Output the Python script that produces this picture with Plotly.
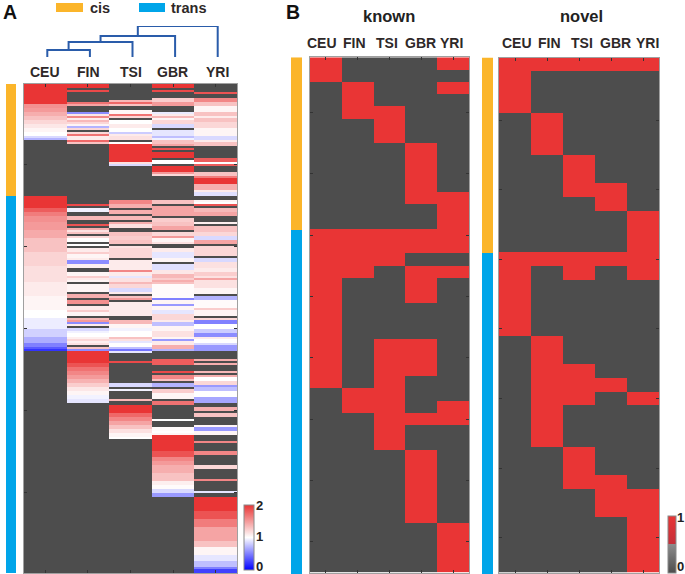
import numpy as np
import plotly.graph_objects as go

W, H = 685, 574
n = None  # no call for this population, shows as dark grey

populations = ["CEU", "FIN", "TSI", "GBR", "YRI"]

# panel A, (value, number of rows) from top to bottom
ceu_runs = [(2.0, 10), (1.55, 2), (1.5, 2), (1.4, 2), (1.3, 2), (1.2, 2), (1.12, 2), (1.05, 2), (1.0, 2), (0.85, 1),
            (0.7, 1), (n, 28), (2.0, 6), (1.8, 2), (1.65, 2), (1.55, 3), (1.5, 4), (1.42, 4), (1.3, 7), (1.22, 7),
            (1.16, 8), (1.1, 7), (1.05, 7), (1.0, 4), (0.93, 6), (0.82, 4), (0.68, 3), (0.5, 2), (0.35, 1), (0.2, 1),
            (n, 111)]
fin_runs = [(2.0, 2), (n, 1), (1.9, 1), (n, 5), (1.7, 1), (1.45, 1), (n, 3), (0.55, 1), (1.12, 1), (1.6, 1), (1.1, 1),
            (1.35, 1), (1.2, 1), (1.05, 1), (0.7, 1), (1.2, 1), (n, 1), (1.2, 1), (1.7, 1), (1.1, 2), (1.75, 1),
            (1.3, 1), (n, 30), (1.9, 1), (n, 1), (0.95, 2), (n, 2), (1.35, 2), (n, 2), (1.85, 1), (n, 1), (1.4, 1),
            (1.15, 1), (1.3, 1), (n, 1), (1.2, 1), (1.0, 2), (n, 1), (1.0, 1), (n, 1), (1.1, 2), (1.25, 1), (1.05, 2),
            (1.1, 1), (0.55, 2), (1.08, 2), (n, 2), (1.05, 2), (1.25, 1), (1.1, 1), (1.05, 1), (n, 1), (1.05, 4),
            (n, 1), (1.4, 2), (n, 1), (1.55, 2), (n, 1), (1.1, 2), (1.25, 1), (1.05, 2), (n, 1), (1.35, 1), (1.5, 1),
            (0.55, 1), (1.1, 1), (n, 1), (0.85, 2), (0.95, 1), (1.0, 2), (1.08, 1), (1.2, 1), (1.08, 1), (1.15, 1),
            (n, 1), (1.3, 1), (0.55, 1), (2.0, 6), (1.85, 2), (1.7, 2), (1.6, 2), (1.5, 2), (1.38, 2), (1.25, 2),
            (1.12, 2), (1.05, 2), (0.95, 2), (0.9, 2), (n, 85)]
tsi_runs = [(n, 8), (1.35, 1), (1.75, 1), (1.3, 1), (n, 2), (1.05, 2), (1.7, 1), (1.2, 1), (n, 1), (1.0, 2), (1.1, 2),
            (1.0, 2), (0.8, 1), (1.1, 1), (1.15, 2), (n, 1), (1.0, 1), (2.0, 9), (1.15, 1), (0.85, 1), (n, 17),
            (1.6, 2), (1.4, 2), (n, 1), (1.4, 2), (n, 1), (1.35, 2), (n, 1), (1.4, 1), (1.15, 2), (n, 2), (1.3, 2),
            (1.25, 2), (1.3, 2), (n, 1), (1.15, 1), (1.2, 5), (n, 1), (1.1, 5), (1.6, 1), (1.1, 2), (0.9, 1), (1.15, 2),
            (1.35, 1), (1.2, 2), (0.85, 2), (1.1, 1), (n, 1), (1.3, 1), (1.5, 1), (n, 1), (1.1, 7), (n, 2), (1.35, 2),
            (1.05, 2), (0.95, 2), (1.0, 3), (1.3, 1), (1.15, 1), (0.9, 1), (1.0, 2), (0.75, 1), (0.45, 1), (0.9, 1),
            (n, 4), (1.9, 1), (n, 10), (0.85, 2), (n, 1), (0.95, 1), (n, 4), (1.35, 1), (n, 2), (2.0, 4), (1.75, 2),
            (1.6, 2), (1.45, 2), (1.3, 2), (1.15, 2), (1.05, 2), (1.0, 1), (n, 68)]
gbr_runs = [(2.0, 2), (n, 1), (1.9, 1), (n, 3), (1.25, 2), (1.5, 2), (n, 3), (0.92, 1), (1.1, 1), (1.35, 1), (1.05, 1),
            (1.2, 2), (0.85, 2), (n, 1), (0.9, 3), (0.75, 1), (0.95, 1), (1.3, 2), (1.45, 1), (n, 1), (1.85, 1), (n, 1),
            (2.0, 3), (n, 1), (1.0, 2), (n, 1), (2.0, 3), (1.5, 1), (1.2, 1), (n, 12), (1.3, 2), (n, 1), (1.45, 5),
            (n, 1), (1.25, 2), (1.3, 2), (1.45, 2), (n, 1), (1.2, 2), (1.5, 1), (1.05, 2), (1.15, 1), (n, 2), (1.1, 2),
            (0.9, 3), (1.05, 2), (n, 1), (0.88, 3), (1.12, 2), (1.35, 2), (1.25, 1), (1.4, 1), (1.3, 1), (1.02, 7),
            (0.5, 1), (1.05, 2), (0.6, 1), (1.05, 2), (0.9, 2), (1.2, 3), (1.1, 1), (0.75, 2), (1.05, 3), (1.15, 3),
            (1.05, 1), (0.6, 1), (1.1, 2), (1.4, 2), (0.7, 1), (n, 4), (1.8, 3), (n, 3), (1.9, 1), (n, 1), (1.6, 2),
            (1.3, 1), (n, 1), (0.7, 2), (n, 1), (1.25, 2), (1.05, 3), (n, 1), (1.7, 2), (n, 7), (1.0, 1), (n, 3),
            (1.02, 2), (1.0, 1), (1.05, 1), (2.0, 8), (1.85, 3), (1.6, 2), (1.5, 2), (1.4, 4), (1.3, 4), (1.08, 2),
            (1.02, 2), (0.85, 2), (0.6, 2), (n, 38)]
yri_runs = [(n, 4), (1.85, 1), (n, 2), (1.6, 2), (1.3, 2), (1.05, 3), (1.3, 2), (1.1, 1), (1.3, 2), (1.2, 3), (1.05, 4),
            (0.85, 2), (1.1, 1), (1.3, 2), (n, 6), (1.8, 2), (1.0, 1), (1.8, 1), (n, 3), (1.3, 2), (1.65, 1), (2.0, 3),
            (1.4, 3), (1.1, 1), (0.88, 2), (n, 2), (1.05, 1), (1.0, 1), (1.85, 1), (n, 1), (1.35, 2), (1.45, 2), (n, 3),
            (1.08, 1), (n, 1), (1.3, 3), (1.2, 2), (0.85, 2), (1.45, 2), (n, 1), (1.2, 5), (n, 1), (0.85, 2), (1.15, 3),
            (1.1, 2), (1.25, 2), (1.15, 1), (1.45, 1), (1.15, 4), (1.05, 3), (n, 1), (0.7, 2), (1.02, 4), (1.25, 1),
            (1.05, 3), (n, 1), (1.2, 1), (0.5, 2), (1.0, 3), (0.8, 2), (0.55, 2), (1.1, 1), (1.0, 2), (0.85, 1),
            (0.6, 3), (n, 4), (1.4, 1), (n, 1), (1.4, 1), (n, 3), (1.35, 1), (n, 1), (1.4, 1), (1.0, 2), (1.2, 2),
            (0.6, 1), (0.75, 2), (1.0, 3), (0.65, 3), (n, 2), (1.4, 2), (n, 1), (1.3, 2), (n, 4), (1.05, 1), (0.6, 2),
            (1.05, 2), (n, 3), (1.6, 1), (n, 4), (1.6, 2), (n, 5), (1.2, 2), (n, 5), (1.6, 1), (n, 5), (0.9, 1), (n, 2),
            (2.0, 7), (1.85, 4), (1.65, 4), (1.45, 7), (1.3, 3), (1.05, 4), (0.9, 3), (0.75, 3), (0.5, 1), (0.25, 2)]

# cis rows, trans rows
groups_a = [56, 189]
groups_known = [14, 28]
groups_novel = [14, 23]

# merge heights of the population tree, CEU+FIN first, YRI last
tree_heights = [7, 15, 21, 31]

# panel B, one row per line, columns as in populations
known_rows = [
    [1, 0, 0, 0, 1], [1, 0, 0, 0, 0], [0, 1, 0, 0, 1], [0, 1, 0, 0, 0], [0, 1, 1, 0, 0], [0, 0, 1, 0, 0],
    [0, 0, 1, 0, 0], [0, 0, 0, 1, 0], [0, 0, 0, 1, 0], [0, 0, 0, 1, 0], [0, 0, 0, 1, 0], [0, 0, 0, 1, 1],
    [0, 0, 0, 0, 1], [0, 0, 0, 0, 1], [1, 1, 1, 1, 1], [1, 1, 1, 1, 1], [1, 1, 1, 0, 0], [1, 1, 0, 1, 1],
    [1, 0, 0, 1, 0], [1, 0, 0, 1, 0], [1, 0, 0, 0, 0], [1, 0, 0, 0, 0], [1, 0, 0, 0, 0], [1, 0, 1, 1, 0],
    [1, 0, 1, 1, 0], [1, 0, 1, 1, 0], [1, 0, 1, 0, 0], [0, 1, 1, 0, 0], [0, 1, 1, 0, 1], [0, 0, 1, 1, 1],
    [0, 0, 1, 0, 0], [0, 0, 1, 0, 0], [0, 0, 0, 1, 0], [0, 0, 0, 1, 0], [0, 0, 0, 1, 0], [0, 0, 0, 1, 0],
    [0, 0, 0, 1, 0], [0, 0, 0, 1, 0], [0, 0, 0, 0, 1], [0, 0, 0, 0, 1], [0, 0, 0, 0, 1], [0, 0, 0, 0, 1],
]
novel_rows = [
    [1, 1, 1, 1, 1], [1, 0, 0, 0, 0], [1, 0, 0, 0, 0], [1, 0, 0, 0, 0], [0, 1, 0, 0, 0], [0, 1, 0, 0, 0],
    [0, 1, 0, 0, 0], [0, 0, 1, 0, 0], [0, 0, 1, 0, 0], [0, 0, 1, 1, 0], [0, 0, 0, 1, 0], [0, 0, 0, 0, 1],
    [0, 0, 0, 0, 1], [0, 0, 0, 0, 1], [1, 1, 1, 1, 1], [1, 0, 1, 0, 1], [1, 0, 0, 0, 0], [1, 0, 0, 0, 0],
    [1, 0, 0, 0, 0], [1, 0, 0, 0, 0], [0, 1, 0, 0, 0], [0, 1, 0, 0, 0], [0, 1, 1, 0, 0], [0, 1, 1, 1, 0],
    [0, 1, 1, 0, 1], [0, 1, 0, 0, 0], [0, 1, 0, 0, 0], [0, 1, 0, 0, 0], [0, 0, 1, 0, 0], [0, 0, 1, 0, 0],
    [0, 0, 1, 1, 0], [0, 0, 0, 1, 1], [0, 0, 0, 1, 1], [0, 0, 0, 0, 1], [0, 0, 0, 0, 1], [0, 0, 0, 0, 1],
    [0, 0, 0, 0, 1],
]

RED = "#e93535"
GREY = "#4d4d4d"
CIS = "#fbb52a"
TRANS = "#00a5e9"
TREE = "#2a5caa"
FONT = "Liberation Sans"


def expand(runs, size=245):
    col = []
    for value, count in runs:
        col += [np.nan if value is None else value] * count
    return (col + [np.nan] * size)[:size]


def xdom(a, b):
    return [a / W, b / W]


def ydom(top, bottom):
    return [1 - bottom / H, 1 - top / H]


fig = go.Figure()
layout = {}
axis_no = [0]


def new_axes(x_px, y_px):
    axis_no[0] += 1
    i = axis_no[0]
    layout[f"xaxis{i}"] = dict(domain=xdom(*x_px), anchor=f"y{i}", visible=False, fixedrange=True)
    layout[f"yaxis{i}"] = dict(domain=ydom(*y_px), anchor=f"x{i}", visible=False, fixedrange=True)
    return i


def frame(i, n_rows, yticks):
    tick = dict(visible=True, showgrid=False, zeroline=False, showline=True, linecolor="#a0a0a0", linewidth=1,
                mirror="ticks", ticks="inside", ticklen=3, tickcolor="#333333", tickwidth=1, showticklabels=False)
    layout[f"xaxis{i}"].update(tick, range=[-0.5, 4.5], tickvals=list(range(5)), side="top")
    layout[f"yaxis{i}"].update(tick, range=[n_rows - 0.5, -0.5], tickvals=yticks)


def strip(x_px, y_px, counts):
    i = new_axes(x_px, y_px)
    z = [[0]] * counts[0] + [[1]] * counts[1]
    layout[f"yaxis{i}"]["range"] = [sum(counts) - 0.5, -0.5]
    fig.add_trace(go.Heatmap(z=z, colorscale=[[0, CIS], [1, TRANS]], zmin=0, zmax=1, showscale=False,
                             xaxis=f"x{i}", yaxis=f"y{i}", hoverinfo="skip"))


# panel A
i = new_axes((24, 237), (84, 573))
columns = [expand(r) for r in [ceu_runs, fin_runs, tsi_runs, gbr_runs, yri_runs]]
z_a = np.array(columns).T
fig.add_trace(go.Heatmap(z=np.zeros(z_a.shape), colorscale=[[0, GREY], [1, GREY]], showscale=False,
                         xaxis=f"x{i}", yaxis=f"y{i}", hoverinfo="skip"))
fig.add_trace(go.Heatmap(
    z=z_a, zmin=0, zmax=2, xaxis=f"x{i}", yaxis=f"y{i}",
    colorscale=[[0, "#0000ff"], [0.5, "#ffffff"], [1, RED]],
    colorbar=dict(x=244 / W, xanchor="left", y=(H - 570) / H, yanchor="bottom", lenmode="pixels", len=65,
                  thickness=10, xpad=0, ypad=0, outlinecolor="#8a8a8a", outlinewidth=1, ticks="",
                  showticklabels=False),
))
frame(i, 245, [40, 81, 122, 163, 204])
strip((6, 16), (84, 573), groups_a)

# tree above panel A, built from the merge heights
i = new_axes((26, 239), (26, 57))
layout[f"xaxis{i}"]["range"] = [-0.5, 4.5]
layout[f"yaxis{i}"]["range"] = [0, tree_heights[-1]]
tree_x, tree_y = [], []
cx, cy = 0, 0
for leaf, h in enumerate(tree_heights, start=1):
    tree_x += [cx, cx, leaf, leaf, None]
    tree_y += [cy, h, h, 0, None]
    cx, cy = (cx + leaf) / 2, h
fig.add_trace(go.Scatter(x=tree_x, y=tree_y, mode="lines", line=dict(color=TREE, width=2), cliponaxis=False,
                         showlegend=False, hoverinfo="skip", xaxis=f"x{i}", yaxis=f"y{i}"))

# panel B
binary_scale = [[0, GREY], [0.5, "#8c8c8c"], [0.5, "#c4303a"], [1, RED]]
i = new_axes((310, 469), (57.3, 572.5))
fig.add_trace(go.Heatmap(z=known_rows, zmin=0, zmax=1, colorscale=binary_scale, showscale=False,
                         xaxis=f"x{i}", yaxis=f"y{i}"))
frame(i, len(known_rows), list(range(4, 40, 5)))
strip((291, 302), (57.3, 574), groups_known)

i = new_axes((499, 659), (57.5, 572.5))
fig.add_trace(go.Heatmap(
    z=novel_rows, zmin=0, zmax=1, colorscale=binary_scale, xaxis=f"x{i}", yaxis=f"y{i}",
    colorbar=dict(x=668 / W, xanchor="left", y=(H - 573) / H, yanchor="bottom", lenmode="pixels", len=57,
                  thickness=8, xpad=0, ypad=0, outlinecolor="#8a8a8a", outlinewidth=1, ticks="",
                  showticklabels=False),
))
frame(i, len(novel_rows), list(range(4, 35, 5)))
strip((482, 493), (57.5, 574), groups_novel)


def label(text, x, y, size=14, color="#2e2828"):
    return dict(text=f"<b>{text}</b>", x=x / W, y=1 - y / H, xref="paper", yref="paper",
                showarrow=False, xanchor="center", yanchor="middle",
                font=dict(family=FONT, size=size, color=color))


notes = [label("A", 10, 12, 19.5, "#111111"), label("B", 293, 12, 19.5, "#111111"),
         label("cis", 100, 8, 14.5), label("trans", 188, 8, 14.5),
         label("known", 389, 16, 16.5, "#222222"), label("novel", 581, 16, 16.5, "#222222")]
for name, x in zip(populations, [45, 88, 131, 172, 217]):
    notes.append(label(name, x, 72))
for name, x in zip(populations, [322, 354, 387, 420, 452]):
    notes.append(label(name, x, 43))
for name, x in zip(populations, [517, 549, 582, 615, 647]):
    notes.append(label(name, x, 43))
# colorbar labels
for text, y in [("2", 505), ("1", 536), ("0", 566)]:
    notes.append(label(text, 259, y, 13, "#222222"))
for text, y in [("1", 517), ("0", 566)]:
    notes.append(label(text, 680, y, 13, "#222222"))

swatches = [dict(type="rect", xref="paper", yref="paper", x0=a / W, x1=b / W, y0=1 - 12 / H, y1=1 - 3 / H,
                 fillcolor=c, line_width=0) for a, b, c in [(56, 83, CIS), (139, 165, TRANS)]]

fig.update_layout(width=W, height=H, margin=dict(l=0, r=0, t=0, b=0, autoexpand=False),
                  paper_bgcolor="white", plot_bgcolor="rgba(0,0,0,0)", showlegend=False,
                  annotations=notes, shapes=swatches, **layout)

fig.write_html("out.html", config=dict(displayModeBar=False), post_script="document.body.style.margin='0';")
